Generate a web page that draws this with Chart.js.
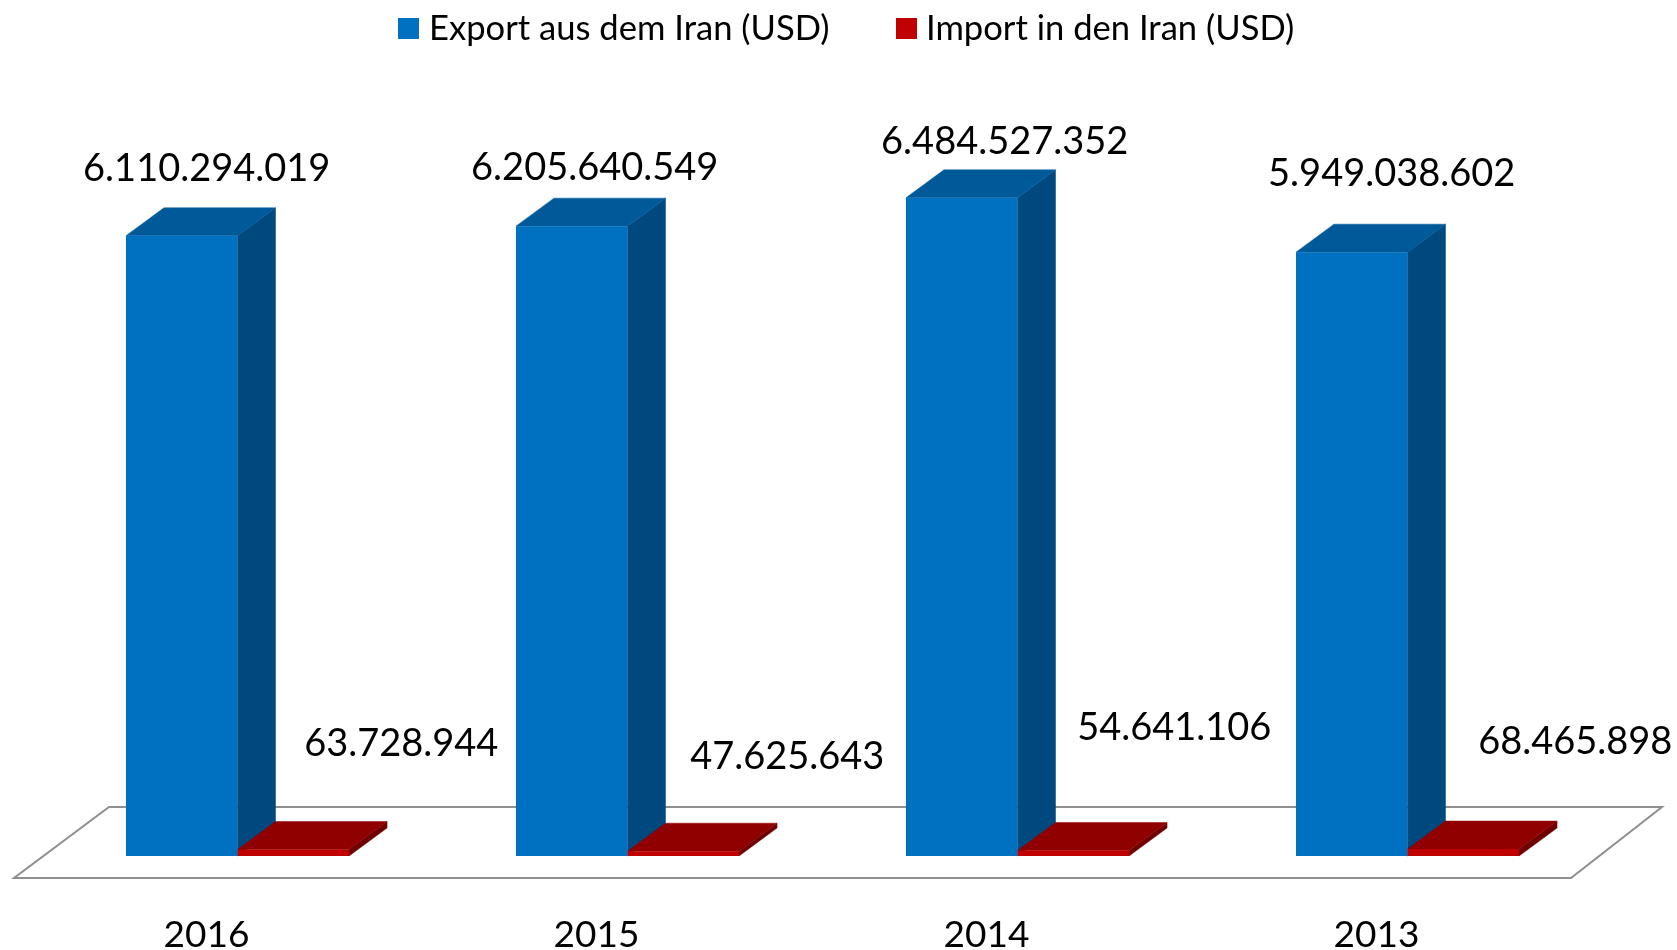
<!DOCTYPE html>
<html>
<head>
<meta charset="utf-8">
<script src="https://cdn.jsdelivr.net/npm/chart.js@4"></script>
<style>
  html, body { margin: 0; background: #fff; }
  canvas { display: block; }
</style>
</head>
<body>
<canvas id="tradeChart" width="1677" height="950"></canvas>
<script>
const years = ["2016", "2015", "2014", "2013"];
const exportValues = [6110294019, 6205640549, 6484527352, 5949038602];
const importValues = [63728944, 47625643, 54641106, 68465898];
const seriesNames = ["Export aus dem Iran (USD)", "Import in den Iran (USD)"];

const FONT = "Lato, sans-serif";
const depth = { x: 38, y: -28 };
const faces = [
  { top: "#005a9a", side: "#00497f" },
  { top: "#900000", side: "#6f0000" }
];
// the labels were moved by hand in the original, so each has its own shift from the bar top
const labelShift = [
  { x: [25, 23, 43, 40], y: [-67, -58, -56, -78] },
  { x: [108, 104, 101, 112], y: [-106, -94, -123, -107] }
];
const legendPos = [{ box: 398, text: 429 }, { box: 896, text: 926 }];

function poly(ctx, color, pts) {
  ctx.fillStyle = color;
  ctx.strokeStyle = color;
  ctx.lineWidth = 0.5;
  ctx.beginPath();
  pts.forEach((p, i) => i ? ctx.lineTo(p[0], p[1]) : ctx.moveTo(p[0], p[1]));
  ctx.closePath();
  ctx.fill();
  ctx.stroke();
}

const fake3d = {
  id: "fake3d",
  beforeDatasetsDraw(chart) {
    const ctx = chart.ctx;
    const base = chart.scales.y.getPixelForValue(0);

    // floor
    ctx.save();
    ctx.strokeStyle = "#8f8f8f";
    ctx.lineWidth = 2;
    ctx.beginPath();
    ctx.moveTo(14, base + 22);
    ctx.lineTo(1571, base + 22);
    ctx.lineTo(1662, base - 49);
    ctx.lineTo(109, base - 49);
    ctx.closePath();
    ctx.stroke();
    ctx.restore();

    // side and top faces, the library draws the front ones
    [0, 1].forEach(d => {
      chart.getDatasetMeta(d).data.forEach(bar => {
        const l = bar.x - bar.width / 2, r = bar.x + bar.width / 2;
        poly(ctx, faces[d].side, [[r, base], [r + depth.x, base + depth.y], [r + depth.x, bar.y + depth.y], [r, bar.y]]);
        poly(ctx, faces[d].top, [[l, bar.y], [l + depth.x, bar.y + depth.y], [r + depth.x, bar.y + depth.y], [r, bar.y]]);
      });
    });
  },
  afterDraw(chart) {
    const ctx = chart.ctx;
    ctx.save();
    ctx.fillStyle = "#000";
    ctx.textBaseline = "middle";

    ctx.font = "38px " + FONT;
    ctx.textAlign = "center";
    chart.data.datasets.forEach((ds, d) => {
      chart.getDatasetMeta(d).data.forEach((bar, i) => {
        ctx.fillText(ds.data[i].toLocaleString("de-DE"), bar.x + labelShift[d].x[i], bar.y + labelShift[d].y[i]);
      });
    });

    ctx.font = "34.6px " + FONT;
    ctx.textAlign = "left";
    chart.data.datasets.forEach((ds, d) => {
      ctx.fillStyle = ds.backgroundColor;
      ctx.fillRect(legendPos[d].box, 18, 21, 21);
      ctx.fillStyle = "#000";
      ctx.fillText(ds.label, legendPos[d].text, 29);
    });
    ctx.restore();
  }
};

new Chart(document.getElementById("tradeChart"), {
  type: "bar",
  data: {
    labels: years,
    datasets: [
      { label: seriesNames[0], data: exportValues, backgroundColor: "#0070c0" },
      { label: seriesNames[1], data: importValues, backgroundColor: "#c00000" }
    ]
  },
  options: {
    responsive: false,
    animation: false,
    layout: { padding: { top: 145.5, left: 42.5, right: 74.5, bottom: 0 } },
    categoryPercentage: 0.572,
    barPercentage: 1,
    plugins: { legend: { display: false }, tooltip: { enabled: false } },
    scales: {
      y: { display: false, min: 0, max: 7000000000 },
      x: {
        grid: { display: false },
        border: { display: false },
        afterFit: s => { s.height = 94; },
        ticks: {
          color: "#000",
          font: { family: FONT, size: 37 },
          padding: 49,
          labelOffset: -31,
          maxRotation: 0
        }
      }
    }
  },
  plugins: [fake3d]
});
</script>
</body>
</html>
